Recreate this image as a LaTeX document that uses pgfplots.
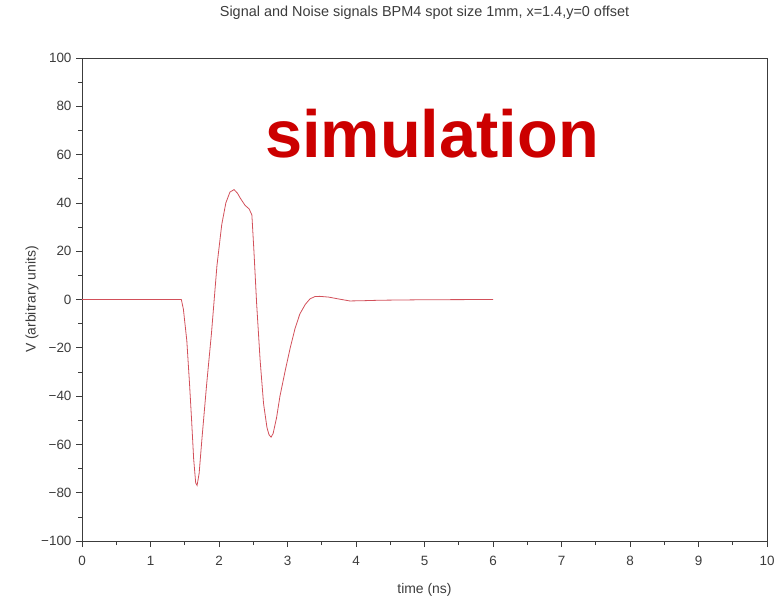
\documentclass[border=0pt]{standalone}
\usepackage{fontspec}
\setmainfont{Liberation Sans}
\usepackage{pgfplots}
\pgfplotsset{compat=1.18}
\definecolor{simred}{RGB}{204,0,0}
\definecolor{sigred}{RGB}{210,80,90}
\definecolor{axgray}{RGB}{60,60,60}
\begin{document}
\begin{tikzpicture}
\useasboundingbox (-82bp,-56bp) rectangle (699bp,541bp);
\begin{axis}[
  scale only axis,
  width=685bp, height=483bp,
  at={(0,0)}, anchor=south west,
  xmin=0, xmax=10, ymin=-100, ymax=100,
  xtick={0,1,2,3,4,5,6,7,8,9,10},
  xticklabels={0,1,2,3,4,5,6,7,8,9,10},
  ytick={-100,-80,-60,-40,-20,0,20,40,60,80,100},
  yticklabels={−100,−80,−60,−40,−20,0,20,40,60,80,100},
  minor x tick num=1, minor y tick num=1,
  tick align=outside, tick pos=left,
  major tick length=6bp, minor tick length=4bp,
  every tick/.style={axgray, line width=0.6bp},
  axis line style={axgray, line width=0.8bp},
  ticklabel style={font=\fontsize{13.5}{15}\selectfont, text=axgray},
  xticklabel style={yshift=-6bp},
  yticklabel style={xshift=-1bp},
  title={Signal and Noise signals BPM4 spot size 1mm, x=1.4,y=0 offset},
  title style={at={(axis description cs:0.5,1.0745)}, anchor=base,
    font=\fontsize{14.5}{16}\selectfont, text=axgray},
  xlabel={time (ns)},
  xlabel style={at={(axis description cs:0.5,-0.1077)}, anchor=base,
    font=\fontsize{14}{16}\selectfont, text=axgray},
  ylabel={V (arbitrary units)},
  ylabel style={at={(axis description cs:-0.073,0.5)}, anchor=center,
    font=\fontsize{14}{16}\selectfont, text=axgray},
]
\addplot[sigred, line width=0.8bp] coordinates {
  (0,0) (1.45,0) (1.48,-4) (1.53,-17) (1.57,-35) (1.60,-50) (1.63,-66)
  (1.66,-76) (1.68,-77) (1.71,-72) (1.75,-58) (1.82,-35) (1.89,-14)
  (1.97,14) (2.04,31) (2.10,40) (2.16,44.5) (2.22,45.5) (2.27,44)
  (2.31,42) (2.38,39) (2.44,37.5) (2.48,35) (2.51,20) (2.55,-2)
  (2.60,-25) (2.65,-43) (2.70,-53) (2.73,-56) (2.76,-57) (2.79,-55.5)
  (2.84,-49) (2.89,-40) (2.97,-29) (3.04,-20) (3.11,-12) (3.18,-6)
  (3.26,-2) (3.33,0.3) (3.40,1.2) (3.47,1.3) (3.60,1) (3.75,0.2)
  (3.91,-0.6) (4.10,-0.5) (4.35,-0.3) (5,-0.1) (6,0)
};
\node[anchor=base, text=simred, font=\fontsize{67}{70}\selectfont\bfseries]
  at (axis cs:5.11,58.8) {simulation};
\end{axis}
\end{tikzpicture}
\end{document}
